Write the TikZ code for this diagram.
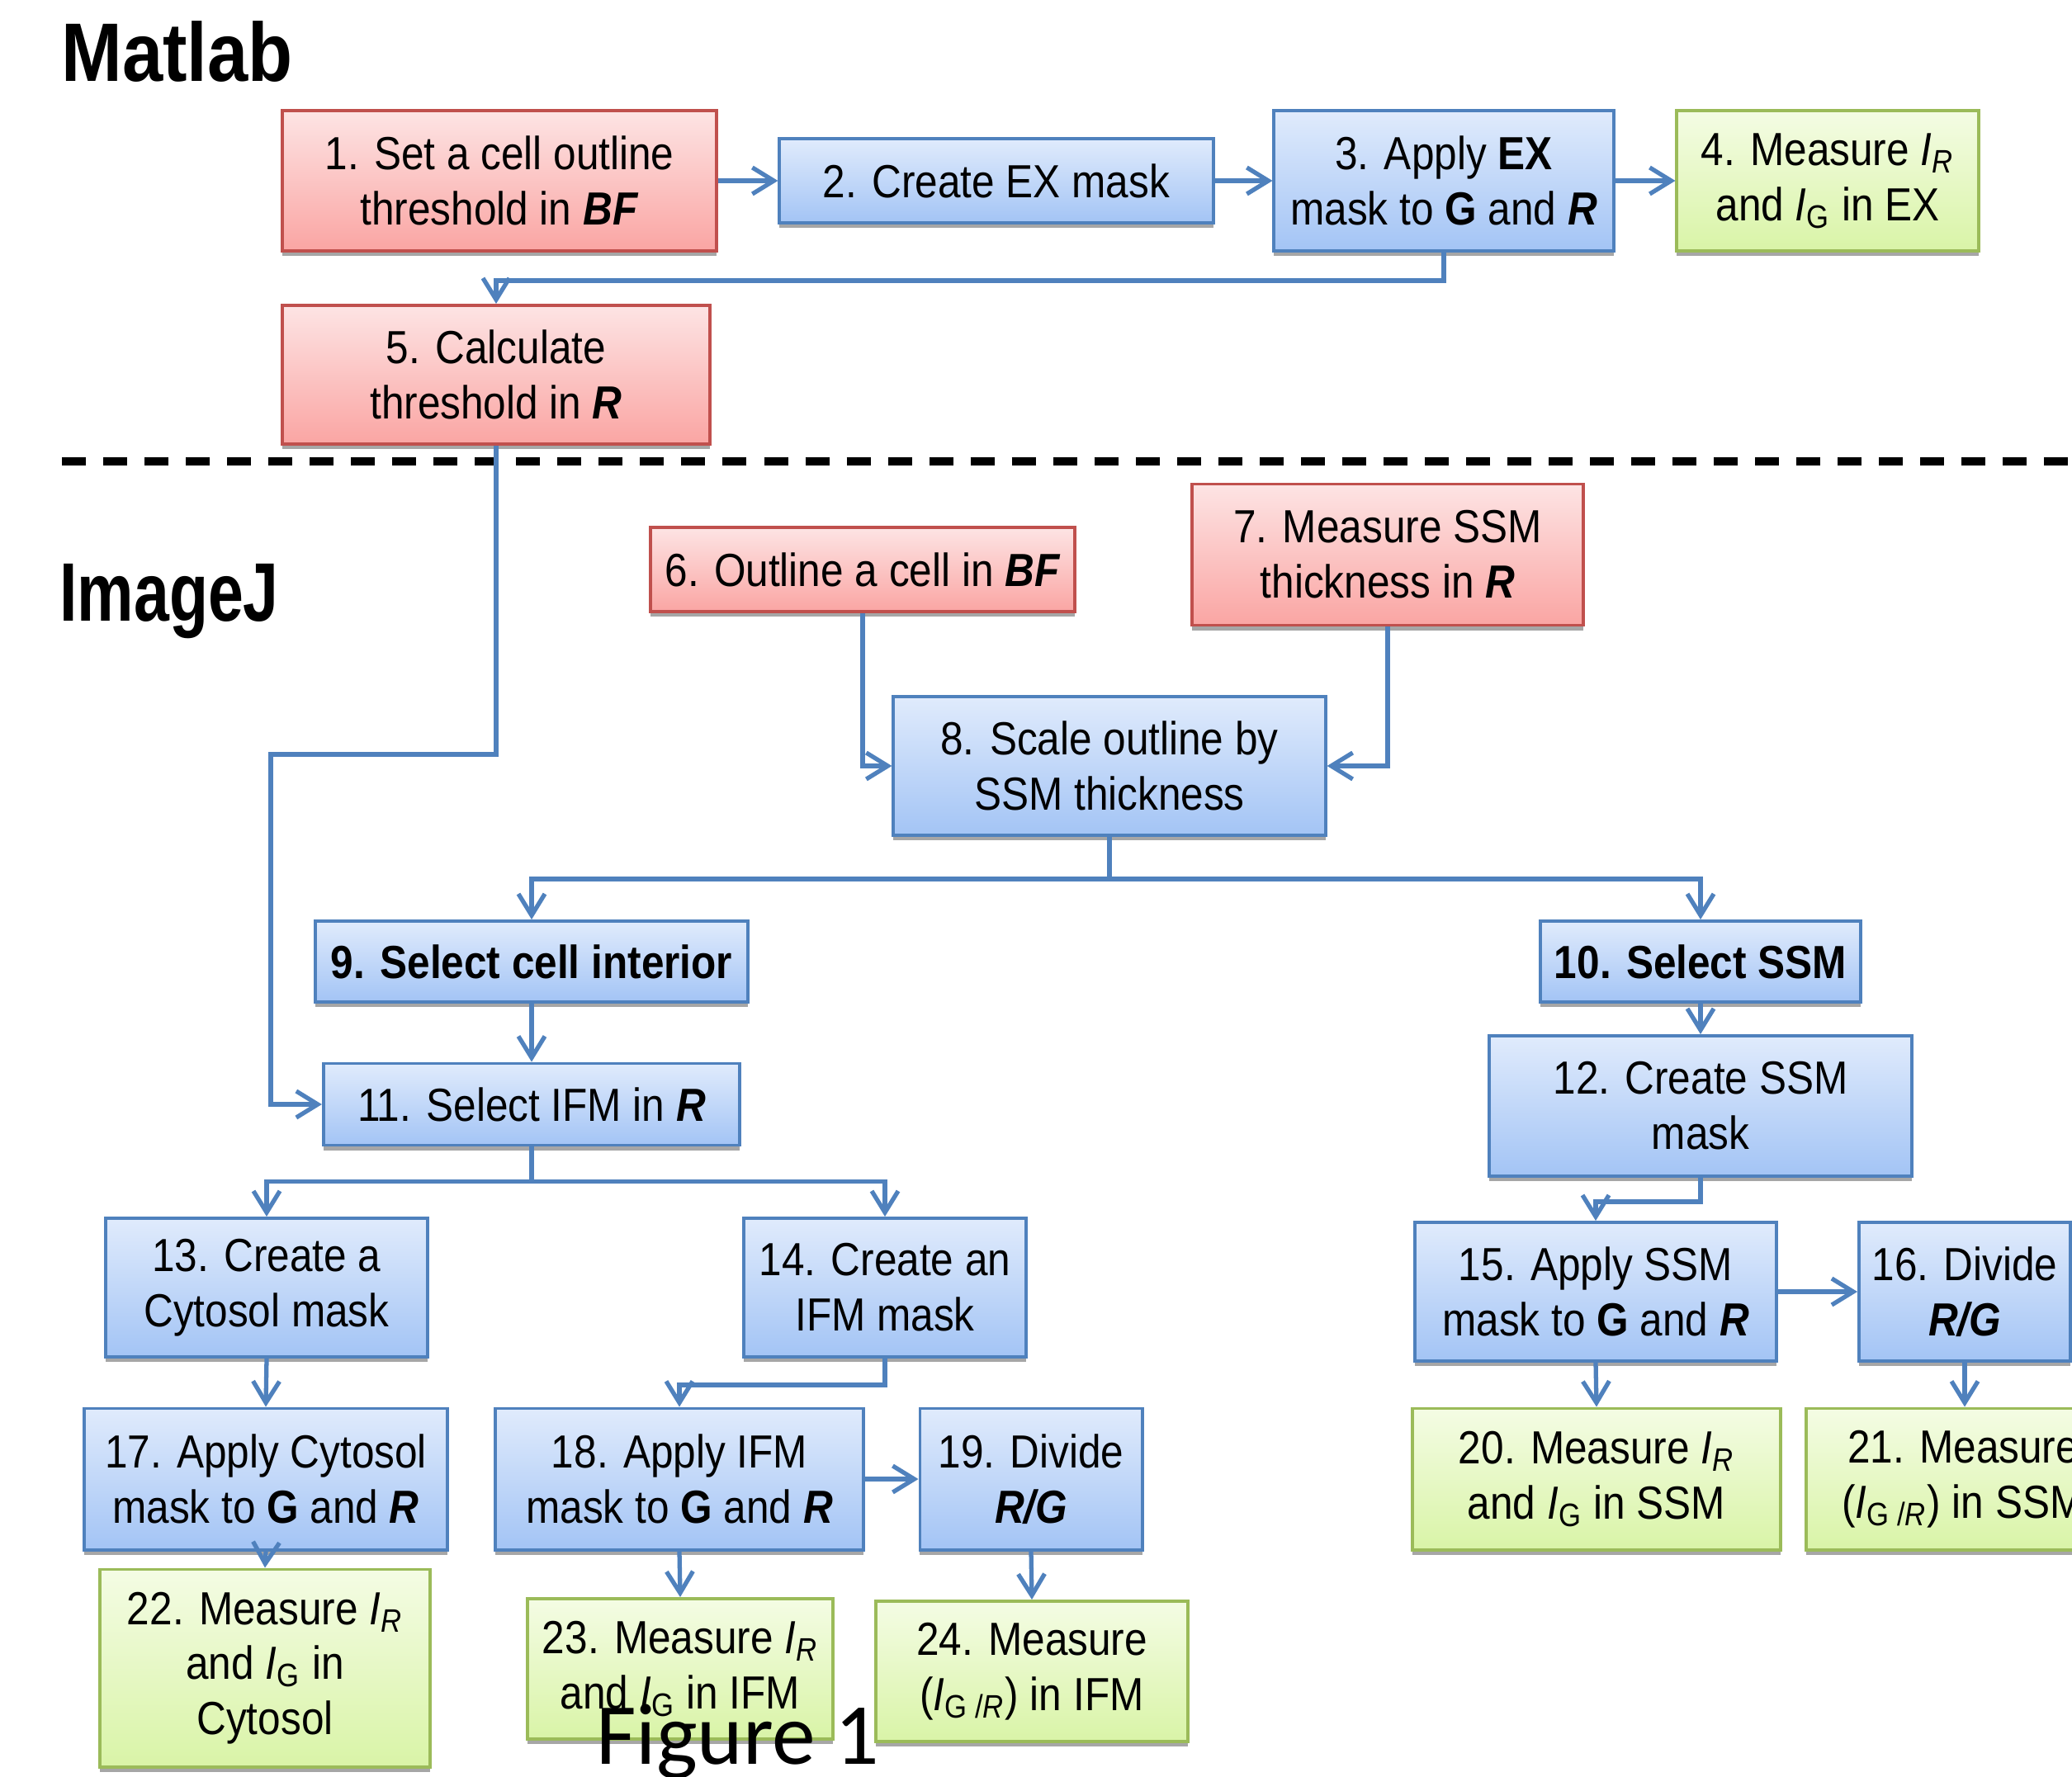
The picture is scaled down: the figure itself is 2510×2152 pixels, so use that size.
\documentclass[tikz,border=0pt]{standalone}
\usepackage{fontspec}
\setmainfont{Liberation Sans}[FakeStretch=0.88]
\newfontfamily\figfont{Carlito}
\usetikzlibrary{arrows.meta,shadows}

\definecolor{bluerim}{RGB}{79,129,189}
\definecolor{bluetop}{RGB}{224,235,252}
\definecolor{bluebot}{RGB}{163,196,245}
\definecolor{redrim}{RGB}{192,80,77}
\definecolor{redtop}{RGB}{253,228,228}
\definecolor{redbot}{RGB}{250,165,163}
\definecolor{greenrim}{RGB}{155,187,89}
\definecolor{greentop}{RGB}{244,252,228}
\definecolor{greenbot}{RGB}{217,244,167}
\definecolor{linkblue}{RGB}{79,129,189}

\newcommand{\bi}[1]{\textbf{\textit{#1}}}
\newcommand{\Iof}[1]{\textit{I}\textsubscript{#1}}

\tikzset{
  stepbox/.style={draw, line width=1.1pt, align=center, inner sep=0pt,
    font=\fontsize{16pt}{19pt}\selectfont,
    drop shadow={shadow xshift=0pt, shadow yshift=-0.6mm, fill=black, opacity=0.35}},
  bluebox/.style={stepbox, draw=bluerim, top color=bluetop, bottom color=bluebot},
  redbox/.style={stepbox, draw=redrim, top color=redtop, bottom color=redbot},
  greenbox/.style={stepbox, draw=greenrim, top color=greentop, bottom color=greenbot},
  link/.style={draw=linkblue, line width=1.5pt,
    -{Straight Barb[length=2.6mm,width=3.2mm]}},
  heading/.style={anchor=base west, font=\fontsize{28.6pt}{30pt}\selectfont\bfseries}
}

\begin{document}
\begin{tikzpicture}[x=0.01cm, y=-0.01cm]
  \useasboundingbox (0,0) rectangle (2510,2152);
  \clip (0,0) rectangle (2510,2152);

  % section titles and divider
  \node[heading] (matlab) at (62,99) {Matlab};
  \node[heading] (imagej) at (60,752) {\scalebox{0.87}[1]{ImageJ}};
  \draw[line width=2.7pt, dash pattern=on 0.29cm off 0.21cm] (75,559) -- (2510,559);

  % Matlab steps
  \node[redbox, minimum width=5.25cm, minimum height=1.70cm] (s1) at (605,219) {1. Set a cell outline\\ threshold in \bi{BF}};
  \node[bluebox, minimum width=5.25cm, minimum height=1.02cm] (s2) at (1207,219) {2. Create EX mask};
  \node[bluebox, minimum width=4.11cm, minimum height=1.70cm] (s3) at (1749,219) {3. Apply \textbf{EX}\\ mask to \textbf{G} and \bi{R}};
  \node[greenbox, minimum width=3.65cm, minimum height=1.70cm] (s4) at (2214,219) {4. Measure \Iof{\textit{R}}\\ and \Iof{G} in EX};
  \node[redbox, minimum width=5.17cm, minimum height=1.68cm] (s5) at (601,454) {5. Calculate\\ threshold in \bi{R}};

  % ImageJ steps
  \node[redbox, minimum width=5.14cm, minimum height=1.02cm] (s6) at (1045,690) {6. Outline a cell in \bi{BF}};
  \node[redbox, minimum width=4.74cm, minimum height=1.71cm] (s7) at (1681,672) {7. Measure SSM\\ thickness in \bi{R}};
  \node[bluebox, minimum width=5.23cm, minimum height=1.68cm] (s8) at (1344,928) {8. Scale outline by\\ SSM thickness};
  \node[bluebox, minimum width=5.23cm, minimum height=0.98cm] (s9) at (644,1165) {\textbf{9. Select cell interior}};
  \node[bluebox, minimum width=3.87cm, minimum height=0.98cm] (s10) at (2060,1165) {\textbf{10. Select SSM}};
  \node[bluebox, minimum width=5.04cm, minimum height=0.99cm] (s11) at (644,1338) {11. Select IFM in \bi{R}};
  \node[bluebox, minimum width=5.12cm, minimum height=1.70cm] (s12) at (2060,1340) {12. Create SSM\\ mask};
  \node[bluebox, minimum width=3.89cm, minimum height=1.68cm] (s13) at (323,1560) {13. Create a\\ Cytosol mask};
  \node[bluebox, minimum width=3.41cm, minimum height=1.68cm] (s14) at (1072,1560) {14. Create an\\ IFM mask};
  \node[bluebox, minimum width=4.37cm, minimum height=1.68cm] (s15) at (1933,1565) {15. Apply SSM\\ mask to \textbf{G} and \bi{R}};
  \node[bluebox, minimum width=2.56cm, minimum height=1.68cm] (s16) at (2380,1565) {16. Divide\\ \bi{R/G}};
  \node[bluebox, minimum width=4.39cm, minimum height=1.71cm] (s17) at (322,1792) {17. Apply Cytosol\\ mask to \textbf{G} and \bi{R}};
  \node[bluebox, minimum width=4.45cm, minimum height=1.71cm] (s18) at (823,1792) {18. Apply IFM\\ mask to \textbf{G} and \bi{R}};
  \node[bluebox, minimum width=2.69cm, minimum height=1.71cm] (s19) at (1249,1792) {19. Divide\\ \bi{R/G}};
  \node[greenbox, minimum width=4.45cm, minimum height=1.71cm] (s20) at (1934,1792) {20. Measure \Iof{\textit{R}}\\ and \Iof{G} in SSM};
  \node[greenbox, minimum width=3.80cm, minimum height=1.71cm] (s21) at (2378,1792) {21. Measure\\ (\Iof{G /\textit{R}}) in SSM};
  \node[greenbox, minimum width=3.99cm, minimum height=2.39cm] (s22) at (321,2021) {22. Measure \Iof{\textit{R}}\\ and \Iof{G} in\\ Cytosol};
  \node[greenbox, minimum width=3.70cm, minimum height=1.70cm] (s23) at (824,2022) {23. Measure \Iof{\textit{R}}\\ and \Iof{G} in IFM};
  \node[greenbox, minimum width=3.78cm, minimum height=1.70cm] (s24) at (1250,2025) {24. Measure\\ (\Iof{G /\textit{R}}) in IFM};

  % connectors
  \draw[link] (s1.east) -- (s2.west);
  \draw[link] (s2.east) -- (s3.west);
  \draw[link] (s3.east) -- (s4.west);
  \draw[link] (s3.south) -- ++(0,34) -| (s5.north);
  \draw[link] (s5.south) |- (328,914) |- (s11.west);
  \draw[link] (s6.south) |- (s8.west);
  \draw[link] (s7.south) |- (s8.east);
  \draw[link] (s8.south) -- ++(0,51) -| (s9.north);
  \draw[link] (s8.south) -- ++(0,51) -| (s10.north);
  \draw[link] (s9.south) -- (s11.north);
  \draw[link] (s10.south) -- (s12.north);
  \draw[link] (s11.south) -- ++(0,42) -| (s13.north);
  \draw[link] (s11.south) -- ++(0,42) -| (s14.north);
  \draw[link] (s12.south) -- ++(0,29) -| (s15.north);
  \draw[link] (s15.east) -- (s16.west);
  \draw[link] (s13.south) -- (s17.north);
  \draw[link] (s14.south) -- ++(0,32) -| (s18.north);
  \draw[link] (s18.east) -- (s19.west);
  \draw[link] (s17.south) -- (s22.north);
  \draw[link] (s18.south) -- (s23.north);
  \draw[link] (s19.south) -- (s24.north);
  \draw[link] (s15.south) -- (s20.north);
  \draw[link] (s16.south) -- (s16.south |- s21.north);

  \node[anchor=base west, font=\figfont\fontsize{30pt}{32pt}\selectfont] (caption) at (710,2137) {Figure 1};
\end{tikzpicture}
\end{document}
